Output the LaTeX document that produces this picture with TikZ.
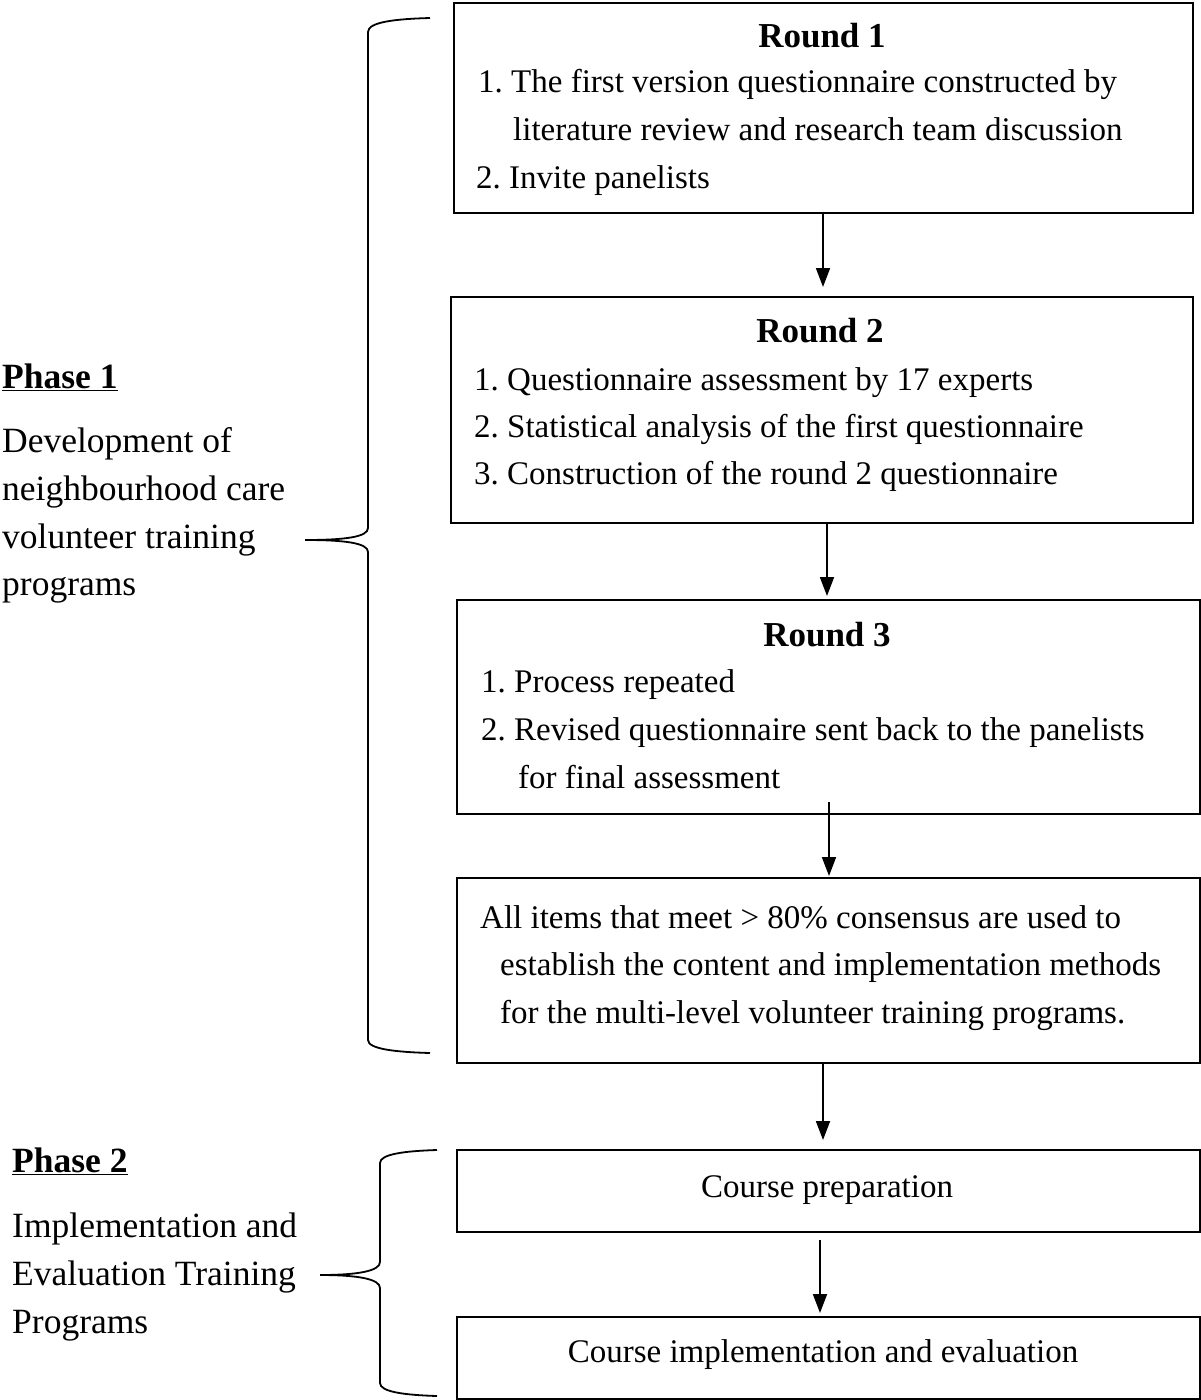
\documentclass[tikz,border=0pt]{standalone}
\usepackage{fontspec}
\setmainfont{Liberation Serif}
\usetikzlibrary{arrows.meta}
\frenchspacing
\begin{document}
\begin{tikzpicture}[x=1pt,y=-1pt,
  box/.style={draw,line width=2.4pt,anchor=north west,inner sep=0pt},
  txt/.style={anchor=base west,inner sep=0pt,font=\fontsize{33}{48}\selectfont},
  ltxt/.style={anchor=base west,inner sep=0pt,font=\fontsize{35.5}{48}\selectfont},
  ctxt/.style={anchor=base,inner sep=0pt,font=\fontsize{33}{48}\selectfont},
  ttl/.style={anchor=base,inner sep=0pt,font=\fontsize{35}{48}\selectfont\bfseries},
  arr/.style={line width=1.8pt,-{Triangle[length=19pt,width=14pt]}},
  brace/.style={line width=1.8pt}]
\useasboundingbox (0,0) rectangle (1200,1400);
% boxes
\node[box,minimum width=739pt,minimum height=210pt] (b1) at (453,2) {};
\node[box,minimum width=742pt,minimum height=226pt] (b2) at (450,296) {};
\node[box,minimum width=743pt,minimum height=214pt] (b3) at (456,599) {};
\node[box,minimum width=743pt,minimum height=185pt] (b4) at (456,877) {};
\node[box,minimum width=743pt,minimum height=82pt] (b5) at (456,1149) {};
\node[box,minimum width=743pt,minimum height=82pt] (b6) at (456,1316) {};
% box texts
\node[ttl] (t1) at (822,47) {Round 1};
\node[txt] (t1a) at (478,92) {1. The first version questionnaire constructed by};
\node[txt] (t1b) at (513,140) {literature review and research team discussion};
\node[txt] (t1c) at (476,188) {2. Invite panelists};
\node[ttl] (t2) at (820,342) {Round 2};
\node[txt] (t2a) at (474,390) {1. Questionnaire assessment by 17 experts};
\node[txt] (t2b) at (474,437) {2. Statistical analysis of the first questionnaire};
\node[txt] (t2c) at (474,484) {3. Construction of the round 2 questionnaire};
\node[ttl] (t3) at (827,646) {Round 3};
\node[txt] (t3a) at (481,692) {1. Process repeated};
\node[txt] (t3b) at (481,740) {2. Revised questionnaire sent back to the panelists};
\node[txt] (t3c) at (518,788) {for final assessment};
\node[txt] (t4a) at (480,928) {All items that meet > 80\% consensus are used to};
\node[txt] (t4b) at (500,975) {establish the content and implementation methods};
\node[txt] (t4c) at (500,1023) {for the multi-level volunteer training programs.};
\node[ctxt] (t5) at (827,1197) {Course preparation};
\node[ctxt] (t6) at (823,1362) {Course implementation and evaluation};
% arrows
\coordinate (a1s) at (823,212); \coordinate (a1e) at (823,287);
\coordinate (a2s) at (827,522); \coordinate (a2e) at (827,596);
\coordinate (a3s) at (829,802); \coordinate (a3e) at (829,876);
\coordinate (a4s) at (823,1064); \coordinate (a4e) at (823,1140);
\coordinate (a5s) at (820,1240); \coordinate (a5e) at (820,1313);
\draw[arr] (a1s) -- (a1e);
\draw[arr] (a2s) -- (a2e);
\draw[arr] (a3s) -- (a3e);
\draw[arr] (a4s) -- (a4e);
\draw[arr] (a5s) -- (a5e);
% left texts
\node[ltxt] (p1) at (2,388) {\textbf{\underline{Phase 1}}};
\node[ltxt] (p1a) at (2,452) {Development of};
\node[ltxt] (p1b) at (2,500) {neighbourhood care};
\node[ltxt] (p1c) at (2,548) {volunteer training};
\node[ltxt] (p1d) at (2,595) {programs};
\node[ltxt] (p2) at (12,1172) {\textbf{\underline{Phase 2}}};
\node[ltxt] (p2a) at (12,1237) {Implementation and};
\node[ltxt] (p2b) at (12,1285) {Evaluation Training};
\node[ltxt] (p2c) at (12,1333) {Programs};
% braces
\draw[brace] (430,18) .. controls (395,19) and (368,22) .. (368,32) -- (368,528)
  .. controls (368,537) and (345,540) .. (305,540)
  .. controls (345,540) and (368,543) .. (368,552) -- (368,1040)
  .. controls (368,1049) and (395,1052) .. (430,1053);
\draw[brace] (437,1150) .. controls (405,1151) and (380,1154) .. (380,1163) -- (380,1262)
  .. controls (380,1271) and (358,1275) .. (320,1275)
  .. controls (358,1275) and (380,1279) .. (380,1288) -- (380,1383)
  .. controls (380,1392) and (405,1395) .. (437,1396);
\end{tikzpicture}
\end{document}
